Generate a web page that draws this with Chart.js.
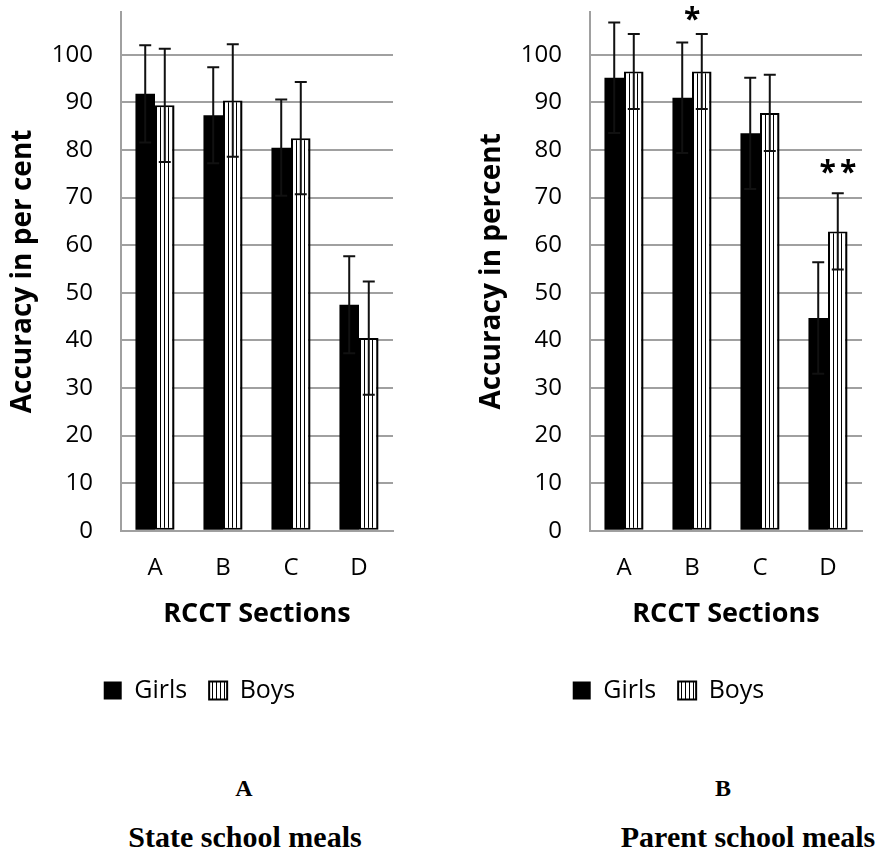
<!DOCTYPE html>
<html>
<head>
<meta charset="utf-8">
<script src="https://cdn.jsdelivr.net/npm/chart.js@4.4.1/dist/chart.umd.min.js"></script>
<style>
  html, body { margin: 0; padding: 0; background: #fff; overflow: hidden; }
  body { width: 887px; height: 853px; position: relative; }
  .panel { position: absolute; top: 0; width: 418px; height: 720px; }
  .caption {
    position: absolute;
    font-family: "Liberation Serif", "Times New Roman", serif;
    font-weight: bold;
    color: #000;
    line-height: 1;
    white-space: nowrap;
    transform: translateX(-50%);
  }
  .letter { font-size: 24px; top: 776px; }
  .meals { font-size: 30px; top: 822px; }
</style>
</head>
<body>
<div class="panel" style="left:0"><canvas id="stateChart" width="418" height="720"></canvas></div>
<div class="panel" style="left:469px"><canvas id="parentChart" width="418" height="720"></canvas></div>
<div class="caption letter" style="left:244px">A</div>
<div class="caption meals" style="left:245px">State school meals</div>
<div class="caption letter" style="left:723px">B</div>
<div class="caption meals" style="left:748px">Parent school meals</div>

<script>
const categories = ["A", "B", "C", "D"];

// panel A: state school meals
const stateGirls    = [91.8, 87.3, 80.5, 47.5];
const stateGirlsErr = [10.2, 10.1, 10.1, 10.2];
const stateBoys     = [89.4, 90.4, 82.5, 40.5];
const stateBoysErr  = [11.9, 11.8, 11.8, 11.9];

// panel B: parent school meals
const parentGirls    = [95.2, 91.0, 83.5, 44.7];
const parentGirlsErr = [11.6, 11.6, 11.7, 11.7];
const parentBoys     = [96.5, 96.5, 87.8, 62.9];
const parentBoysErr  = [7.9, 7.9, 8.0, 8.0];

// significance marks (category index, value where the mark sits)
const parentMarks = [
  { index: 1, value: 108.6, text: "*", onBoys: false },
  { index: 3, value: 76.5, text: "**", onBoys: true },
];

const GRID = "#a0a0a0";
const SANS = "'Open Sans', 'Noto Sans', sans-serif";

function makeStripes() {
  const c = document.createElement("canvas");
  c.width = 4;
  c.height = 4;
  const g = c.getContext("2d");
  g.fillStyle = "#ffffff";
  g.fillRect(0, 0, 4, 4);
  g.fillStyle = "#000000";
  g.fillRect(0, 0, 1, 4);
  return g.createPattern(c, "repeat");
}

const stripes = makeStripes();

const errorBars = {
  id: "errorBars",
  afterDatasetsDraw(chart) {
    const ctx = chart.ctx;
    const y = chart.scales.y;
    chart.data.datasets.forEach((ds, i) => {
      const meta = chart.getDatasetMeta(i);
      meta.data.forEach((bar, j) => {
        const v = ds.data[j];
        const e = ds.errors[j];
        const top = y.getPixelForValue(v + e);
        const bottom = y.getPixelForValue(v - e);
        ctx.save();
        ctx.strokeStyle = "#111";
        ctx.lineWidth = 2;
        ctx.beginPath();
        ctx.moveTo(bar.x, top);
        ctx.lineTo(bar.x, bottom);
        ctx.moveTo(bar.x - 6, top);
        ctx.lineTo(bar.x + 6, top);
        ctx.moveTo(bar.x - 6, bottom);
        ctx.lineTo(bar.x + 6, bottom);
        ctx.stroke();
        ctx.restore();
      });
    });
  },
};

function makeMarks(items) {
  return {
    id: "marks",
    afterDraw(chart) {
      const ctx = chart.ctx;
      items.forEach((m) => {
        const x = m.onBoys
          ? chart.getDatasetMeta(1).data[m.index].x
          : chart.scales.x.getPixelForValue(m.index);
        const py = chart.scales.y.getPixelForValue(m.value);
        ctx.save();
        ctx.font = "bold 30px " + SANS;
        ctx.fillStyle = "#000";
        ctx.textAlign = "left";
        ctx.textBaseline = "alphabetic";
        ctx.letterSpacing = "4px";
        const tm = ctx.measureText(m.text);
        const w = tm.actualBoundingBoxRight + tm.actualBoundingBoxLeft;
        const shift = (tm.actualBoundingBoxAscent - tm.actualBoundingBoxDescent) / 2;
        ctx.fillText(m.text, x - w / 2 + tm.actualBoundingBoxLeft, py + shift);
        ctx.restore();
      });
    },
  };
}

function drawPanel(id, yTitle, girls, girlsErr, boys, boysErr, marks) {
  const ctx = document.getElementById(id);
  if (!ctx) return;

  new Chart(ctx, {
    type: "bar",
    data: {
      labels: categories,
      datasets: [
        {
          label: "Girls",
          data: girls,
          errors: girlsErr,
          backgroundColor: "#000000",
          borderColor: "#000000",
          borderWidth: 0,
          categoryPercentage: 0.575,
          barPercentage: 1.0,
        },
        {
          label: "Boys",
          data: boys,
          errors: boysErr,
          backgroundColor: stripes,
          borderColor: "#000000",
          borderWidth: 2,
          borderSkipped: false,
          categoryPercentage: 0.575,
          barPercentage: 1.0,
        },
      ],
    },
    options: {
      responsive: false,
      animation: false,
      devicePixelRatio: 1,
      layout: { padding: { left: 6, right: 25, top: 12, bottom: 7 } },
      plugins: {
        legend: {
          position: "bottom",
          labels: {
            font: { family: SANS, size: 25 },
            color: "#000",
            boxWidth: 18,
            boxHeight: 18,
            padding: 22,
          },
        },
        tooltip: { enabled: false },
      },
      scales: {
        x: {
          grid: { display: false, drawTicks: false },
          border: { display: true, color: GRID, width: 2 },
          ticks: {
            font: { family: SANS, size: 24 },
            color: "#000",
            padding: 23,
          },
          title: {
            display: true,
            text: "RCCT Sections",
            font: { family: SANS, size: 27, weight: "bold" },
            color: "#000",
            padding: { top: -7, bottom: 25 },
          },
          afterFit: (axis) => {
            axis.paddingLeft = 0;
            axis.paddingRight = 0;
          },
        },
        y: {
          min: 0,
          max: 109,
          grid: { color: GRID, lineWidth: 2, drawTicks: false },
          border: { display: true, color: GRID, width: 2 },
          ticks: {
            stepSize: 10,
            font: { family: SANS, size: 24 },
            color: "#000",
            padding: 28,
          },
          afterBuildTicks: (axis) => {
            axis.ticks = axis.ticks.filter((t) => t.value % 10 === 0);
          },
          afterFit: (axis) => {
            axis.width = 115;
            axis.paddingTop = 0;
            axis.paddingBottom = 0;
          },
          title: {
            display: true,
            text: yTitle,
            font: { family: SANS, size: 28, weight: "bold" },
            color: "#000",
            padding: 0,
          },
        },
      },
    },
    plugins: [errorBars, makeMarks(marks)],
  });
}

drawPanel("stateChart", "Accuracy in per cent",
  stateGirls, stateGirlsErr, stateBoys, stateBoysErr, []);
drawPanel("parentChart", "Accuracy in percent",
  parentGirls, parentGirlsErr, parentBoys, parentBoysErr, parentMarks);
</script>
</body>
</html>
